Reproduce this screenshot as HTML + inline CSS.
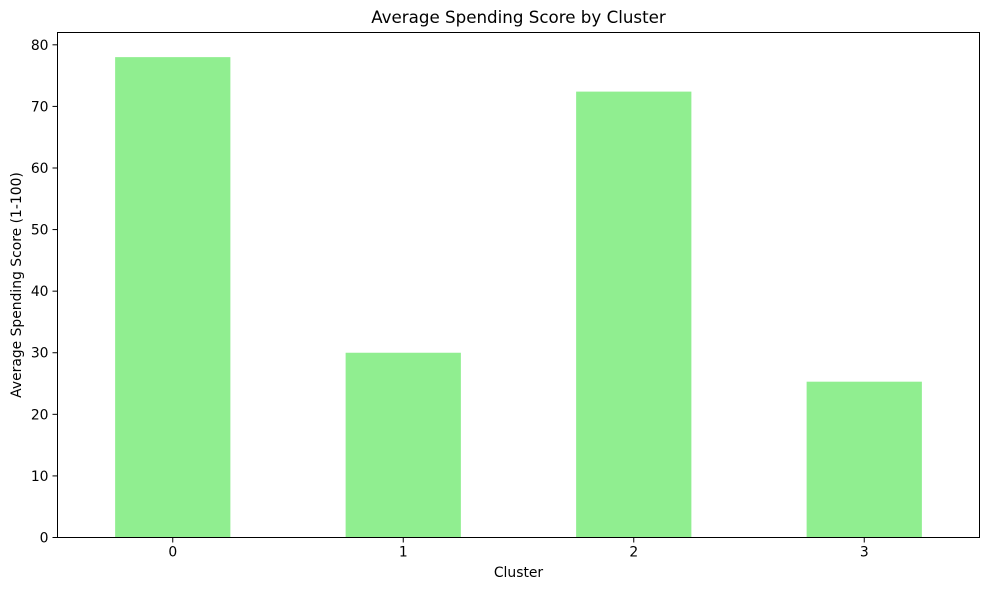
<!DOCTYPE html>
<html><head><meta charset="utf-8"><style>
body{margin:0;background:#fff;}
svg text{font-family:"DejaVu Sans","Liberation Sans",sans-serif;fill:#000;}
</style></head><body>
<svg id="chart" width="989" height="590" xmlns="http://www.w3.org/2000/svg"></svg>
<script>
const categories = ["0","1","2","3"];
const values = [78.0, 30.0, 72.4, 25.3];
const yTicks = [0,10,20,30,40,50,60,70,80];
const L=57.5,R=979.5,T=32.5,B=537.5,yMax=82.0;
const xS=i=>L+(i+0.5)*(R-L)/categories.length;
const yS=v=>B-(v/yMax)*(B-T);
const svg=document.getElementById('chart');
const NS="http://www.w3.org/2000/svg";
function mk(tag,attrs,txt){const e=document.createElementNS(NS,tag);for(const k in attrs)e.setAttribute(k,attrs[k]);if(txt!==undefined)e.textContent=txt;svg.appendChild(e);return e;}
const bw=(R-L)/categories.length*0.5;
values.forEach((v,i)=>{
  const r=mk('rect',{x:xS(i)-bw/2,y:yS(v),width:bw,height:B-yS(v),fill:'#90ee90'});
  
  
});
const frame=mk('rect',{x:L,y:T,width:R-L,height:B-T,fill:'none',stroke:'#000','stroke-width':1});


yTicks.forEach(t=>{
  const y=yS(t);
  const l=mk('line',{x1:L-5,x2:L,y1:y,y2:y,stroke:'#000'});
  
  
  const tx=mk('text',{x:L-9,y:y+5,'text-anchor':'end','font-size':13.9},String(t));
  
  
});
categories.forEach((c,i)=>{
  const x=xS(i);
  const l=mk('line',{x1:x,x2:x,y1:B,y2:B+5,stroke:'#000'});
  
  
  const tx=mk('text',{x:x,y:B+19,'text-anchor':'middle','font-size':13.9},c);
  
  
});
const title=mk('text',{x:(L+R)/2,y:23,'text-anchor':'middle','font-size':16.7},'Average Spending Score by Cluster');


const xt=mk('text',{x:(L+R)/2,y:577,'text-anchor':'middle','font-size':13.9},'Cluster');


const yt=mk('text',{x:0,y:0,'text-anchor':'middle','font-size':13.9,transform:`translate(21,${(T+B)/2}) rotate(-90)`},'Average Spending Score (1-100)');


</script>
</body></html>
